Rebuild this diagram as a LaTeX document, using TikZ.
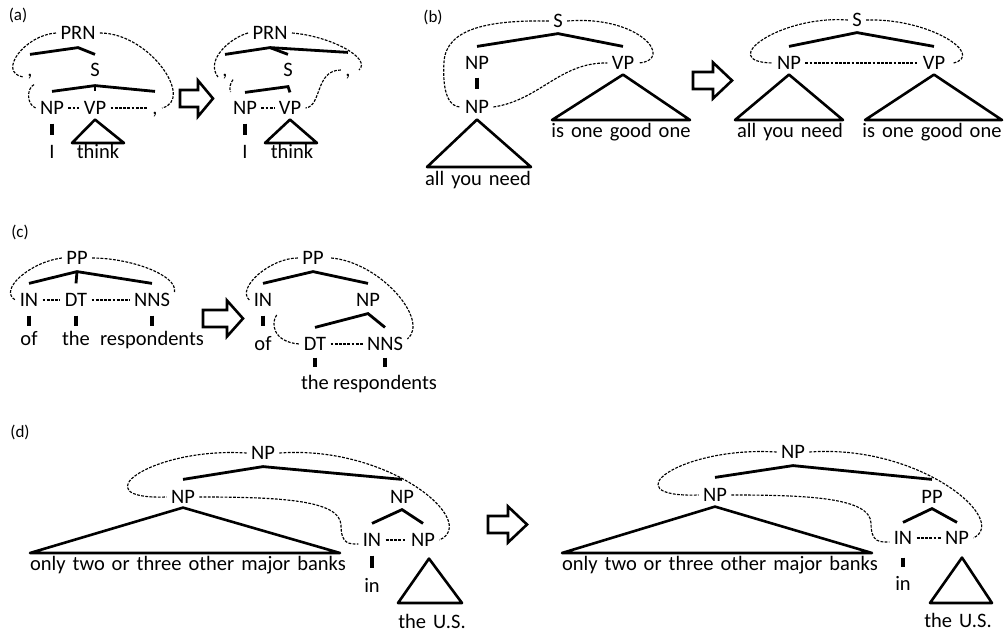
\documentclass[tikz,border=0pt]{standalone}
\usepackage{fontspec}
\setmainfont{Carlito}[WordSpace=1.5]
\newcommand\blkarrow[4]{\draw[blk] (#1,#2-8.5) -- (#1+#3-#4,#2-8.5) -- (#1+#3-#4,#2-18) -- (#1+#3,#2) -- (#1+#3-#4,#2+18) -- (#1+#3-#4,#2+8.5) -- (#1,#2+8.5) -- cycle;}
\tikzset{
 lb/.style={inner sep=0pt, outer xsep=4.5pt, outer ysep=0pt, text height=13.2pt, text depth=0pt, font=\fontsize{20.5}{23}\selectfont},
 tag/.style={inner sep=0pt, anchor=base, font=\fontsize{17}{20}\selectfont},
 br/.style={line width=2.8pt},
 bar/.style={line width=3.2pt},
 tri/.style={line width=2.6pt, line join=round},
 dsh/.style={line width=1.15pt, dash pattern=on 2.8pt off 1.4pt},
 blk/.style={line width=2.6pt, line join=miter}
}
\begin{document}
\begin{tikzpicture}[x=1pt,y=-1pt]
\useasboundingbox (0,0) rectangle (1005,632);
% ---------------- (a) left
\node[tag] (ta) at (18,20) {(a)};
\node[lb] (aPRN) at (78,33) {PRN};
\node[lb] (ac1) at (30,70) {,};
\node[lb] (aS) at (95,70) {S};
\node[lb] (aNP) at (52,108) {NP};
\node[lb] (aVP) at (95,108) {VP};
\node[lb] (ac2) at (155,108) {,};
\node[lb] (aI) at (52,152) {I};
\node[lb] (athink) at (98,152) {think};
\draw[br] ([yshift=9pt]ac1.north) -- ([yshift=-8pt]aPRN.south) -- ([yshift=9pt]aS.north);
\draw[br] ([yshift=10pt]aNP.north) -- ([yshift=-9pt]aS.south) -- ([yshift=10pt]ac2.north);
\draw[br] ([yshift=-9pt]aS.south) -- ([yshift=10pt]aVP.north);
\draw[bar] ([yshift=-9pt]aNP.south) -- ([yshift=10pt]aI.north);
\draw[tri] ([yshift=-5pt]aVP.south) -- (72,143) -- (124,143) -- cycle;
\draw[dsh] (aPRN.west) .. controls (25,35) and (-3,72) .. ([yshift=-7pt]ac1.west);
\draw[dsh] ([shift={(4pt,-8pt)}]ac1.south) .. controls (27,88) and (26,104) .. (aNP.west);
\draw[dsh] (aNP.east) -- (aVP.west);
\draw[dsh] (aVP.east) -- (ac2.west);
\draw[dsh] (aPRN.east) .. controls (150,33) and (195,100) .. (ac2.east);
\blkarrow{180}{98.5}{33}{15}
% ---------------- (a) right
\node[lb] (bPRN) at (270,33) {PRN};
\node[lb] (bc1) at (225,70) {,};
\node[lb] (bS) at (288,70) {S};
\node[lb] (bc3) at (348,70) {,};
\node[lb] (bNP) at (245,108) {NP};
\node[lb] (bVP) at (290,108) {VP};
\node[lb] (bI) at (245,152) {I};
\node[lb] (bthink) at (292,152) {think};
\draw[br] ([yshift=9pt]bc1.north) -- ([yshift=-8pt]bPRN.south) -- ([yshift=9pt]bS.north);
\draw[br] ([yshift=-8pt]bPRN.south) -- ([yshift=11pt]bc3.north);
\draw[br] ([yshift=9pt]bNP.north) -- ([yshift=-10pt]bS.south) -- ([yshift=9pt]bVP.north);
\draw[bar] ([yshift=-9pt]bNP.south) -- ([yshift=10pt]bI.north);
\draw[tri] ([yshift=-5pt]bVP.south) -- (265,143) -- (317,143) -- cycle;
\draw[dsh] (bPRN.west) .. controls (230,38) and (205,60) .. ([yshift=-7pt]bc1.west);
\draw[dsh] ([shift={(8pt,-3pt)}]bc1.south) .. controls (230,84) and (229,88) .. ([shift={(2pt,16pt)}]bNP.west);
\draw[dsh] (bNP.east) -- (bVP.west);
\draw[dsh] (bPRN.east) .. controls (330,36) and (372,58) .. ([xshift=4pt]bc3.east);
\draw[dsh] (bc3.west) .. controls (315,70) and (322,106) .. (bVP.east);
% ---------------- (b) left
\node[tag] (tb) at (433,22) {(b)};
\node[lb] (cS) at (558,21) {S};
\node[lb] (cNP1) at (477,63) {NP};
\node[lb] (cVP) at (623,63) {VP};
\node[lb] (cNP2) at (477,107) {NP};
\node[lb] (call) at (478,178.5) {all you need};
\node[lb] (cis) at (621,131) {is one good one};
\draw[br] ([yshift=10pt]cNP1.north) -- ([yshift=-6pt]cS.south) -- ([yshift=10pt]cVP.north);
\draw[bar] ([yshift=-8pt]cNP1.south) -- ([yshift=11pt]cNP2.north);
\draw[tri] ([yshift=-6pt]cNP2.south) -- (427,167) -- (531,167) -- cycle;
\draw[tri] ([yshift=-5pt]cVP.south) -- (552,120) -- (690,120) -- cycle;
\draw[dsh] (cS.west) .. controls (490,20) and (446,28) .. (444,62) .. controls (442,95) and (450,107) .. (cNP2.west);
\draw[dsh] (cS.east) .. controls (640,15) and (675,60) .. (cVP.east);
\draw[dsh] (cNP2.east) .. controls (540,100) and (560,62) .. (cVP.west);
\blkarrow{693}{80.5}{39}{19}
% ---------------- (b) right
\node[lb] (dS) at (857,20) {S};
\node[lb] (dNP) at (789,63) {NP};
\node[lb] (dVP) at (934,63) {VP};
\node[lb] (dall) at (790,131) {all you need};
\node[lb] (dis) at (932,131) {is one good one};
\draw[br] ([yshift=10pt]dNP.north) -- ([yshift=-6pt]dS.south) -- ([yshift=10pt]dVP.north);
\draw[tri] ([yshift=-5pt]dNP.south) -- (735,120) -- (843,120) -- cycle;
\draw[tri] ([yshift=-5pt]dVP.south) -- (865,120) -- (1002,120) -- cycle;
\draw[dsh] (dNP.east) -- (dVP.west);
\draw[dsh] (dS.west) .. controls (780,15) and (715,62) .. (dNP.west);
\draw[dsh] (dS.east) .. controls (930,18) and (985,55) .. ([xshift=4pt]dVP.east);
% ---------------- (c) left
\node[tag] (tc) at (20,237) {(c)};
\node[lb] (ePP) at (77,258) {PP};
\node[lb] (eIN) at (29,300) {IN};
\node[lb] (eDT) at (76,300) {DT};
\node[lb] (eNNS) at (152,300) {NNS};
\node[lb] (eof) at (29,338.5) {of};
\node[lb] (ethe) at (76,338.5) {the};
\node[lb] (eresp) at (152,338.5) {respondents};
\draw[br] ([yshift=10pt]eIN.north) -- ([yshift=-7pt]ePP.south) -- ([yshift=10pt]eNNS.north);
\draw[br] ([yshift=-7pt]ePP.south) -- ([yshift=10pt]eDT.north);
\draw[bar] ([yshift=-9pt]eIN.south) -- ([yshift=6pt]eof.north);
\draw[bar] ([yshift=-9pt]eDT.south) -- ([yshift=6pt]ethe.north);
\draw[bar] ([yshift=-9pt]eNNS.south) -- ([yshift=6pt]eresp.north);
\draw[dsh] (ePP.west) .. controls (30,262) and (-2,290) .. (eIN.west);
\draw[dsh] (eIN.east) -- (eDT.west);
\draw[dsh] (eDT.east) -- (eNNS.west);
\draw[dsh] (ePP.east) .. controls (130,258) and (178,275) .. ([yshift=8pt]eNNS.east);
\blkarrow{203}{318.5}{40}{16}
% ---------------- (c) right
\node[lb] (fPP) at (313,258) {PP};
\node[lb] (fIN) at (263,300) {IN};
\node[lb] (fNP) at (368,300) {NP};
\node[lb] (fof) at (263,344) {of};
\node[lb] (fDT) at (315,344) {DT};
\node[lb] (fNNS) at (385,344) {NNS};
\node[lb] (fthe) at (315,383) {the};
\node[lb] (fresp) at (385,383) {respondents};
\draw[br] ([yshift=10pt]fIN.north) -- ([yshift=-7pt]fPP.south) -- ([yshift=10pt]fNP.north);
\draw[br] ([yshift=10pt]fDT.north) -- ([yshift=-7pt]fNP.south) -- ([yshift=10pt]fNNS.north);
\draw[bar] ([yshift=-9pt]fIN.south) -- ([yshift=11pt]fof.north);
\draw[bar] ([yshift=-7pt]fDT.south) -- ([yshift=9pt]fthe.north);
\draw[bar] ([yshift=-7pt]fNNS.south) -- ([yshift=9pt]fresp.north);
\draw[dsh] (fPP.west) .. controls (270,258) and (236,288) .. (fIN.west);
\draw[dsh] ([xshift=3pt]fPP.east) .. controls (380,262) and (430,320) .. ([yshift=5pt]fNNS.east);
\draw[dsh] ([yshift=-15pt]fIN.east) .. controls (271,322) and (272,342) .. (fDT.west);
\draw[dsh] (fDT.east) -- (fNNS.west);
% ---------------- (d) left
\node[tag] (td) at (20,437) {(d)};
\node[lb] (gNP) at (263,453) {NP};
\node[lb] (gNPl) at (183,497) {NP};
\node[lb] (gNPr) at (402,497) {NP};
\node[lb] (gIN) at (372,540) {IN};
\node[lb] (gNPb) at (423,540) {NP};
\node[lb] (gbanks) at (188,564) {only two or three other major banks};
\node[lb] (gin) at (372,586) {in};
\node[lb] (gUS) at (432,621.5) {the U.S.};
\draw[br] ([yshift=11pt]gNPl.north) -- ([yshift=-7pt]gNP.south) -- ([yshift=11pt]gNPr.north);
\draw[br] ([yshift=10pt]gIN.north) -- ([yshift=-6pt]gNPr.south) -- ([yshift=10pt]gNPb.north);
\draw[bar] ([yshift=-9pt]gIN.south) -- ([yshift=11pt]gin.north);
\draw[tri] ([yshift=-4pt]gNPl.south) -- (30,553) -- (340,553) -- cycle;
\draw[tri] ([shift={(6pt,-12pt)}]gNPb.south) -- (398,603) -- (462,603) -- cycle;
\draw[dsh] (gNP.west) .. controls (150,447) and (80,500) .. (gNPl.west);
\draw[dsh] (gNP.east) .. controls (390,445) and (480,522) .. (gNPb.east);
\draw[dsh] (gNPl.east) .. controls (280,497) and (340,500) .. (341,525) .. controls (341,545) and (350,544) .. ([yshift=-4pt]gIN.west);
\draw[dsh] (gIN.east) -- (gNPb.west);
\blkarrow{488}{524.5}{39}{19}
% ---------------- (d) right
\node[lb] (kNP) at (793,452) {NP};
\node[lb] (kNPl) at (715,495) {NP};
\node[lb] (kPP) at (932,497) {PP};
\node[lb] (kIN) at (903,538) {IN};
\node[lb] (kNPb) at (957,538) {NP};
\node[lb] (kbanks) at (720,564) {only two or three other major banks};
\node[lb] (kin) at (903,584) {in};
\node[lb] (kUS) at (958,621) {the U.S.};
\draw[br] ([yshift=11pt]kNPl.north) -- ([yshift=-7pt]kNP.south) -- ([yshift=11pt]kPP.north);
\draw[br] ([yshift=9pt]kIN.north) -- ([yshift=-5pt]kPP.south) -- ([yshift=9pt]kNPb.north);
\draw[bar] ([yshift=-13pt]kIN.south) -- ([yshift=10pt]kin.north);
\draw[tri] ([yshift=-5pt]kNPl.south) -- (562,553) -- (872,553) -- cycle;
\draw[tri] ([shift={(5pt,-13pt)}]kNPb.south) -- (930,603) -- (992,603) -- cycle;
\draw[dsh] (kNP.west) .. controls (680,446) and (610,498) .. (kNPl.west);
\draw[dsh] (kNP.east) .. controls (920,444) and (1010,520) .. (kNPb.east);
\draw[dsh] (kNPl.east) .. controls (810,495) and (870,498) .. (871,523) .. controls (871,543) and (880,542) .. ([yshift=-4pt]kIN.west);
\draw[dsh] (kIN.east) -- (kNPb.west);
\end{tikzpicture}
\end{document}
